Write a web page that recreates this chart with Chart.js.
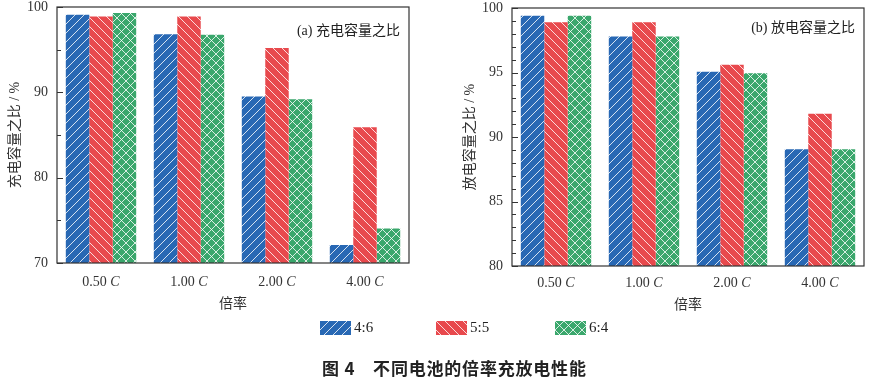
<!DOCTYPE html>
<html><head><meta charset="utf-8">
<script src="https://cdn.jsdelivr.net/npm/chart.js@4/dist/chart.umd.min.js"></script>
<style>
body{margin:0;background:#fff;width:872px;height:379px;position:relative;overflow:hidden;font-family:"Liberation Serif","Noto Sans CJK SC",serif;}
#c1{position:absolute;left:0;top:0;}
#c2{position:absolute;left:440px;top:0;}
.leg{position:absolute;top:320px;height:15px;display:flex;align-items:center;font-size:15px;color:#222;white-space:nowrap}
.leg canvas{margin-right:3px;display:block}
#cap{position:absolute;top:355px;left:322px;font:bold 17px "Noto Sans CJK SC";color:#222;white-space:nowrap;letter-spacing:0.8px}
</style></head>
<body>
<canvas id="c1" width="420" height="320"></canvas>
<canvas id="c2" width="432" height="320"></canvas>
<div class="leg" style="left:320px"><canvas id="l0" width="31" height="14"></canvas>4:6</div>
<div class="leg" style="left:436px"><canvas id="l1" width="31" height="14"></canvas>5:5</div>
<div class="leg" style="left:555px"><canvas id="l2" width="31" height="14"></canvas>6:4</div>
<div id="cap">图 4　不同电池的倍率充放电性能</div>
<script>
const categories = ['0.50 C','1.00 C','2.00 C','4.00 C'];
const seriesNames = ['4:6','5:5','6:4'];
const charge46 = [99.1, 96.8, 89.5, 72.1];
const charge55 = [98.9, 98.9, 95.2, 85.9];
const charge64 = [99.3, 96.75, 89.2, 74.05];
const discharge46 = [99.4, 97.8, 95.05, 89.05];
const discharge55 = [98.9, 98.9, 95.6, 91.8];
const discharge64 = [99.4, 97.8, 94.95, 89.05];
const chargeTicks = [70, 80, 90, 100];
const chargeMinor = [75, 85, 95];
const dischargeTicks = [80, 85, 90, 95, 100];
const dischargeMinor = [81,82,83,84,86,87,88,89,91,92,93,94,96,97,98,99];

const colors = ['#2868b4', '#e8494d', '#3aa76c'];
const hatch = ['/', '\\', 'x'];

function makePattern(color, type){
  const s = 9;
  const c = document.createElement('canvas'); c.width = s; c.height = s;
  const x = c.getContext('2d');
  x.fillStyle = color; x.fillRect(0,0,s,s);
  x.strokeStyle = 'rgba(255,255,255,0.8)'; x.lineWidth = 1;
  const fwd = () => { x.beginPath(); x.moveTo(-1,s+1); x.lineTo(s+1,-1); x.moveTo(-1,1); x.lineTo(1,-1); x.moveTo(s-1,s+1); x.lineTo(s+1,s-1); x.stroke(); };
  const back = () => { x.beginPath(); x.moveTo(-1,-1); x.lineTo(s+1,s+1); x.moveTo(s-1,-1); x.lineTo(s+1,1); x.moveTo(-1,s-1); x.lineTo(1,s+1); x.stroke(); };
  if (type === '/') fwd(); else if (type === '\\') back(); else { fwd(); back(); }
  return x.createPattern(c, 'repeat');
}
const patterns = colors.map((c,i) => makePattern(c, hatch[i]));

patterns.forEach((p,i) => {
  const cv = document.getElementById('l'+i); const x = cv.getContext('2d');
  x.fillStyle = p; x.fillRect(0,0,cv.width,cv.height);
});

const SERIF = '"Liberation Serif","Noto Sans CJK SC",serif';

function makeChart(id, data, min, max, ticks, minor, yTitle, panel, cfg){
  const decor = {
    id: 'decor'+id,
    afterDraw(chart){
      const ctx = chart.ctx, a = chart.chartArea;
      const ys = chart.scales.y, xs = chart.scales.x;
      ctx.save();
      ctx.strokeStyle = '#333'; ctx.lineWidth = 1.2;
      ctx.strokeRect(a.left, a.top, a.right - a.left, a.bottom - a.top);
      ctx.lineWidth = 1;
      ticks.forEach(v => { const y = Math.round(ys.getPixelForValue(v)) + 0.5; ctx.beginPath(); ctx.moveTo(a.left, y); ctx.lineTo(a.left + 6, y); ctx.stroke(); });
      minor.forEach(v => { const y = Math.round(ys.getPixelForValue(v)) + 0.5; ctx.beginPath(); ctx.moveTo(a.left, y); ctx.lineTo(a.left + 4, y); ctx.stroke(); });
      ctx.fillStyle = '#333'; ctx.textBaseline = 'middle';
      categories.forEach((lab, i) => {
        const cx = xs.getPixelForTick(i);
        const num = lab.slice(0, lab.length - 1), unit = lab.slice(-1);
        ctx.font = '14px ' + SERIF; const w1 = ctx.measureText(num).width;
        ctx.font = 'italic 14px ' + SERIF; const w2 = ctx.measureText(unit).width;
        const sx = cx - (w1 + w2) / 2;
        ctx.textAlign = 'left';
        ctx.font = '14px ' + SERIF; ctx.fillText(num, sx, cfg.xLabY);
        ctx.font = 'italic 14px ' + SERIF; ctx.fillText(unit, sx + w1, cfg.xLabY);
      });
      ctx.font = '14px ' + SERIF; ctx.textAlign = 'center';
      ctx.fillText('倍率', (a.left + a.right) / 2, cfg.xTitleY);
      ctx.save();
      ctx.translate(cfg.yTitleX, (a.top + a.bottom) / 2);
      ctx.rotate(-Math.PI / 2);
      ctx.fillText(yTitle, 0, 0);
      ctx.restore();
      ctx.textAlign = 'right';
      ctx.font = '14px ' + SERIF;
      ctx.fillStyle = '#222';
      ctx.fillText(panel, a.right - 9, a.top + cfg.panelDy);
      ctx.restore();
    }
  };
  return new Chart(document.getElementById(id), {
    type: 'bar',
    data: {
      labels: categories,
      datasets: seriesNames.map((n, i) => ({
        label: n, data: data[i], backgroundColor: patterns[i], borderWidth: 0,
        categoryPercentage: 0.8, barPercentage: 1.0
      }))
    },
    options: {
      responsive: false, animation: false, devicePixelRatio: 1,
      layout: { padding: { top: cfg.top, right: cfg.right, left: 0, bottom: 0 } },
      plugins: { legend: { display: false }, tooltip: { enabled: false } },
      scales: {
        x: { grid: { display: false, drawTicks: false }, border: { display: false }, ticks: { display: false },
             afterFit(s){ s.height = cfg.xH; s.paddingLeft = 0; s.paddingRight = 0; } },
        y: { min: min, max: max,
             afterBuildTicks(s){ s.ticks = ticks.map(v => ({ value: v })); },
             grid: { display: false, drawTicks: false }, border: { display: false },
             ticks: { padding: 9, font: { family: 'Liberation Serif', size: 14 }, color: '#333' },
             afterFit(s){ s.width = cfg.yW; s.paddingTop = 0; s.paddingBottom = 0; } }
      }
    },
    plugins: [decor]
  });
}

makeChart('c1', [charge46, charge55, charge64], 70, 100, chargeTicks, chargeMinor,
  '充电容量之比 / %', '(a) 充电容量之比',
  { top: 7, right: 11, xH: 57, yW: 57, xLabY: 282, xTitleY: 304, yTitleX: 15, panelDy: 24 });
makeChart('c2', [discharge46, discharge55, discharge64], 80, 100, dischargeTicks, dischargeMinor,
  '放电容量之比 / %', '(b) 放电容量之比',
  { top: 8, right: 8, xH: 54, yW: 72, xLabY: 283, xTitleY: 305, yTitleX: 30, panelDy: 20 });
</script>
</body></html>
